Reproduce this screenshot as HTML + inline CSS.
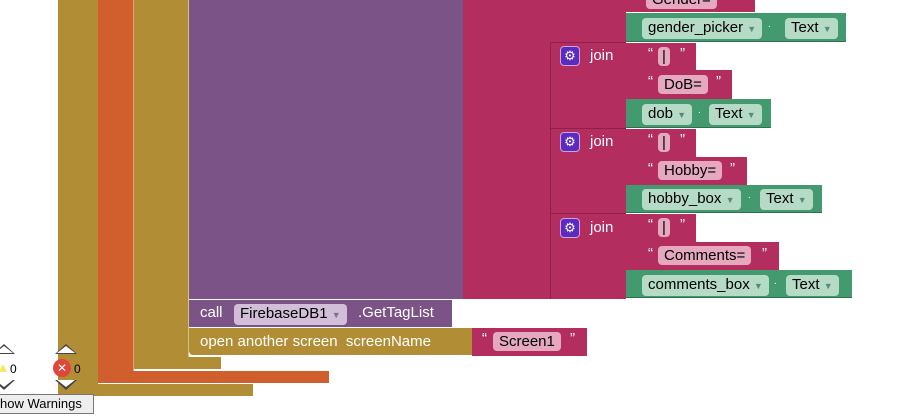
<!DOCTYPE html><html><head><style>
body{margin:0;width:921px;height:417px;background:#fff;position:relative;overflow:hidden;font-family:"Liberation Sans",sans-serif}
div{position:absolute;box-sizing:border-box}
.t{color:#fff;font-size:15px;line-height:1}
.p{border-radius:4px;font-size:15px;line-height:19px;padding:0 6px;color:#000}
.g{background:#439a6f;border-bottom:1px solid #2f7050}
.gp{background:#b5dac6}
.m{background:#b32d5e}
.mp{background:#e5a8bf}
.q{color:#fff;font-size:15px}
.join{width:20px;height:20px;background:#5b2bc0;border:1px solid #c9a6e0;border-radius:4px;color:#fff;font-size:13px;text-align:center;line-height:18px}
.dd{font-size:9px;color:#5a8a70}
.up{width:0;height:0;border-left:11px solid transparent;border-right:11px solid transparent;border-bottom:10px solid #444}
.up:after{content:"";position:absolute;left:-9px;top:2px;border-left:9px solid transparent;border-right:9px solid transparent;border-bottom:7px solid #fff}
.dn{width:0;height:0;border-left:11px solid transparent;border-right:11px solid transparent;border-top:10px solid #444}
.dn:after{content:"";position:absolute;left:-9px;top:-10px;border-left:9px solid transparent;border-right:9px solid transparent;border-top:7px solid #fff}
</style></head><body>
<div style="left:58px;top:0;width:40px;height:396px;background:#b18e35;border-radius:0 0 0 6px"></div>
<div style="left:58px;top:384px;width:195px;height:12px;background:#b18e35"></div>
<div style="left:98px;top:0;width:36px;height:383px;background:#d05f2d;border-radius:0 0 0 8px;border-right:1px solid #e8a080"></div>
<div style="left:98px;top:371px;width:231px;height:12px;background:#d05f2d"></div>
<div style="left:134px;top:0;width:55px;height:369px;background:#b18e35;border-radius:0 0 0 6px;border-right:1px solid #d8c080"></div>
<div style="left:134px;top:357px;width:87px;height:12px;background:#b18e35"></div>
<div style="left:189px;top:0;width:274px;height:299px;background:#7b5386"></div>
<div style="left:189px;top:300px;width:263px;height:27px;background:#7b5386"></div>
<div class="t" style="left:200px;top:305px">call</div>
<div class="p" style="left:234px;top:304px;background:#d2bed8">FirebaseDB1 <span class="dd" style="color:#777">▼</span></div>
<div class="t" style="left:358px;top:305px">.GetTagList</div>
<div style="left:189px;top:328px;width:283px;height:27px;background:#b18e35;border-radius:0 0 0 4px"></div>
<div class="t" style="left:200px;top:334px">open another screen&nbsp; screenName</div>
<div class="m" style="left:472px;top:328px;width:115px;height:28px"></div>
<div class="q" style="left:482px;top:330px">“</div>
<div class="p mp" style="left:493px;top:332px">Screen1</div>
<div class="q" style="left:570px;top:330px">”</div>
<div class="m" style="left:463px;top:0;width:163px;height:299px"></div>
<div class="m" style="left:626px;top:0;width:129px;height:12px"></div>
<div class="p mp" style="left:646px;top:-10px">Gender=</div>
<div class="g" style="left:626px;top:13px;width:220px;height:29px"></div>
<div class="p gp" style="left:642px;top:18px">gender_picker <span class="dd">▼</span></div>
<div class="t" style="left:768px;top:20px;font-size:10px">.</div>
<div class="p gp" style="left:785px;top:18px">Text <span class="dd">▼</span></div>
<div style="left:550px;top:43px;width:1px;height:256px;background:#8e2049"></div>
<div style="left:550px;top:128px;width:76px;height:1px;background:#8e2049"></div>
<div style="left:550px;top:213px;width:76px;height:1px;background:#8e2049"></div>
<div style="left:550px;top:42px;width:76px;height:1px;background:#8e2049"></div>
<div class="join" style="left:560px;top:46px">⚙</div><div class="t" style="left:590px;top:48px">join</div>
<div class="join" style="left:560px;top:132px">⚙</div><div class="t" style="left:590px;top:134px">join</div>
<div class="join" style="left:560px;top:218px">⚙</div><div class="t" style="left:590px;top:220px">join</div>
<div class="m" style="left:626px;top:43px;width:70px;height:27px"></div>
<div class="q" style="left:648px;top:45px">“</div><div class="p mp" style="left:658px;top:47px;padding:0 4px">|</div><div class="q" style="left:680px;top:45px">”</div>
<div class="m" style="left:626px;top:70px;width:106px;height:29px"></div>
<div class="q" style="left:648px;top:73px">“</div><div class="p mp" style="left:658px;top:75px">DoB=</div><div class="q" style="left:716px;top:73px">”</div>
<div class="g" style="left:626px;top:99px;width:145px;height:29px"></div>
<div class="p gp" style="left:642px;top:104px">dob <span class="dd">▼</span></div>
<div class="t" style="left:698px;top:106px;font-size:10px">.</div>
<div class="p gp" style="left:709px;top:104px">Text <span class="dd">▼</span></div>
<div class="m" style="left:626px;top:129px;width:70px;height:28px"></div>
<div class="q" style="left:648px;top:131px">“</div><div class="p mp" style="left:658px;top:133px;padding:0 4px">|</div><div class="q" style="left:680px;top:131px">”</div>
<div class="m" style="left:626px;top:157px;width:121px;height:28px"></div>
<div class="q" style="left:648px;top:160px">“</div><div class="p mp" style="left:658px;top:161px">Hobby=</div><div class="q" style="left:730px;top:160px">”</div>
<div class="g" style="left:626px;top:185px;width:196px;height:28px"></div>
<div class="p gp" style="left:642px;top:189px">hobby_box <span class="dd">▼</span></div>
<div class="t" style="left:748px;top:191px;font-size:10px">.</div>
<div class="p gp" style="left:760px;top:189px">Text <span class="dd">▼</span></div>
<div class="m" style="left:626px;top:214px;width:70px;height:28px"></div>
<div class="q" style="left:648px;top:216px">“</div><div class="p mp" style="left:658px;top:218px;padding:0 4px">|</div><div class="q" style="left:680px;top:216px">”</div>
<div class="m" style="left:626px;top:242px;width:153px;height:28px"></div>
<div class="q" style="left:648px;top:245px">“</div><div class="p mp" style="left:658px;top:246px">Comments=</div><div class="q" style="left:762px;top:245px">”</div>
<div class="g" style="left:626px;top:270px;width:226px;height:28px"></div>
<div class="p gp" style="left:642px;top:275px">comments_box <span class="dd">▼</span></div>
<div class="t" style="left:774px;top:277px;font-size:10px">.</div>
<div class="p gp" style="left:786px;top:275px">Text <span class="dd">▼</span></div>
<div class="up" style="left:-7px;top:344px"></div>
<div style="left:-4px;top:359px;font-size:14px;color:#f2e86a">▲</div>
<div style="left:10px;top:362px;font-size:12px">0</div>
<div class="dn" style="left:-7px;top:380px"></div>
<div class="up" style="left:55px;top:344px"></div>
<div style="left:53px;top:359px;width:18px;height:18px;border-radius:50%;background:#e0463a;color:#fff;font-size:12px;text-align:center;line-height:18px">✕</div>
<div style="left:74px;top:362px;font-size:12px">0</div>
<div class="dn" style="left:55px;top:380px"></div>
<div style="left:-5px;top:394px;width:99px;height:20px;background:#eee;border:1px solid #777;font-size:13px;line-height:18px;padding-left:4px">how Warnings</div>
</body></html>
